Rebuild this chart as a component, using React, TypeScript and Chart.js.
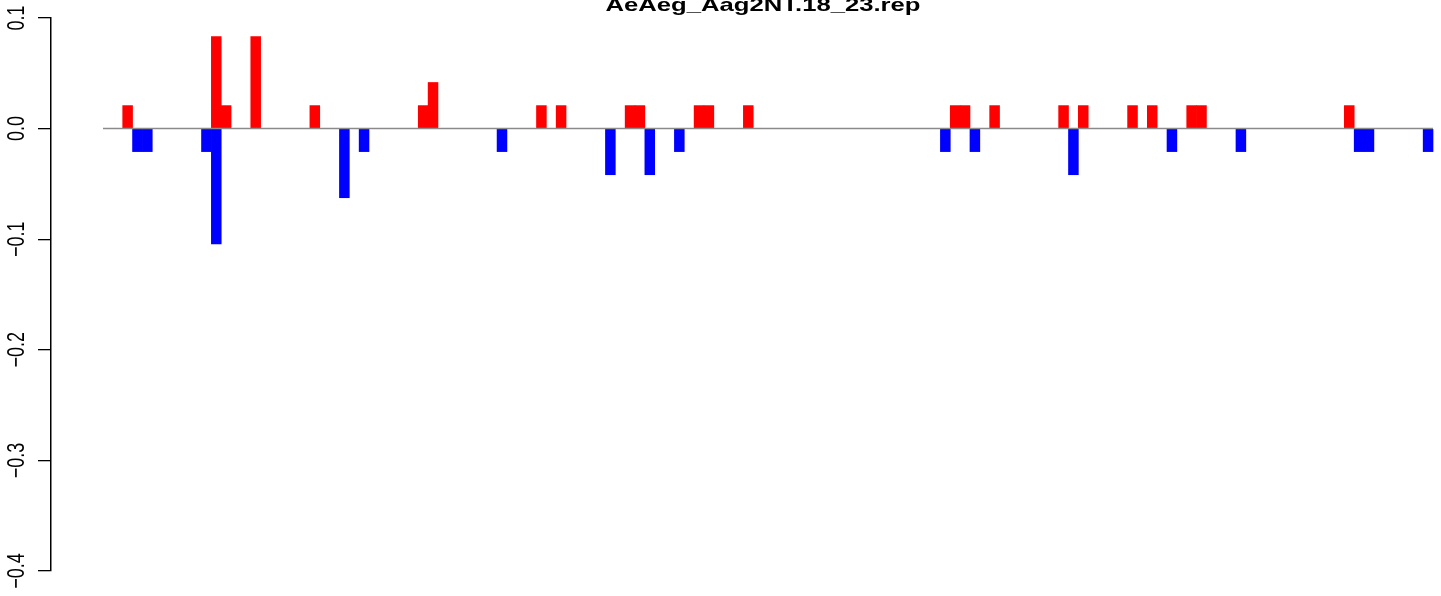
import React, { useEffect, useRef } from "react";
import { Chart, registerables } from "chart.js";

Chart.register(...registerables);

// ---- data ----
const chartTitle = "AeAeg_Aag2NT.18_23.rep";
const nBins = 135;

const redPositions = [2, 11, 12, 15, 21, 32, 33, 44, 46, 53, 54, 60, 61, 65, 86, 87, 90, 97, 99, 104, 106, 110, 111, 126];
const redValues = [
  0.0208, 0.0833, 0.0208, 0.0833, 0.0208, 0.0208, 0.0417, 0.0208, 0.0208, 0.0208, 0.0208, 0.0208,
  0.0208, 0.0208, 0.0208, 0.0208, 0.0208, 0.0208, 0.0208, 0.0208, 0.0208, 0.0208, 0.0208, 0.0208,
];

const bluePositions = [3, 4, 10, 11, 24, 26, 40, 51, 55, 58, 85, 88, 98, 108, 115, 127, 128, 134];
const blueValues = [
  -0.0208, -0.0208, -0.0208, -0.1042, -0.0625, -0.0208, -0.0208, -0.0417, -0.0417, -0.0208, -0.0208,
  -0.0208, -0.0417, -0.0208, -0.0208, -0.0208, -0.0208, -0.0208,
];

const zeroLineX = [-0.5, nBins - 0.5];
const zeroLineY = [0, 0];

const yTickValues = [0.1, 0, -0.1, -0.2, -0.3, -0.4];
const yTickLabels = ["0.1", "0.0", "\u22120.1", "\u22120.2", "\u22120.3", "\u22120.4"];

// ---- layout / style ----
const W = 1441;
const H = 596;
const STRETCH = 1.35;
const SLOT_PX = 9.852;
const AREA_LEFT = 51;
const FIRST_BAR_LEFT = 103;
const X_MIN = -0.5 - (FIRST_BAR_LEFT - AREA_LEFT) / SLOT_PX;
const X_MAX = X_MIN + (W - AREA_LEFT) / SLOT_PX;

const rTextPlugin = {
  id: "rText",
  afterDraw(chart: any) {
    const ctx = chart.ctx as CanvasRenderingContext2D;
    const ys = chart.scales.y;
    ctx.save();
    ctx.fillStyle = "#000";
    ctx.textAlign = "center";
    ctx.textBaseline = "alphabetic";
    ctx.font = '18px "Liberation Sans", Arial, sans-serif';
    yTickValues.forEach((v, i) => {
      const py = ys.getPixelForValue(v);
      ctx.save();
      ctx.translate(23.5, py);
      ctx.rotate(-Math.PI / 2);
      ctx.scale(1, STRETCH);
      ctx.fillText(yTickLabels[i], 0, 0);
      ctx.restore();
    });
    ctx.font = 'bold 19px "Liberation Sans", Arial, sans-serif';
    ctx.translate(763, 10.5);
    ctx.scale(STRETCH, 1);
    ctx.fillText(chartTitle, 0, 0);
    ctx.restore();
  },
};

export default function App() {
  const canvasRef = useRef<HTMLCanvasElement | null>(null);

  useEffect(() => {
    const canvas = canvasRef.current;
    if (!canvas) return;
    const chart = new Chart(canvas, {
      type: "bar",
      data: {
        datasets: [
          {
            type: "line",
            data: zeroLineX.map((x, i) => ({ x, y: zeroLineY[i] })),
            borderColor: "#8a8a8a",
            borderWidth: 1.5,
            pointRadius: 0,
            fill: false,
            order: 0,
          } as any,
          {
            data: redPositions.map((x, i) => ({ x, y: redValues[i] })),
            backgroundColor: "#FF0000",
            borderWidth: 0,
            grouped: false,
            barPercentage: 1,
            categoryPercentage: 1,
            order: 1,
          },
          {
            data: bluePositions.map((x, i) => ({ x, y: blueValues[i] })),
            backgroundColor: "#0000FF",
            borderWidth: 0,
            grouped: false,
            barPercentage: 1,
            categoryPercentage: 1,
            order: 2,
          },
        ],
      },
      options: {
        responsive: false,
        animation: false,
        devicePixelRatio: 1,
        events: [],
        layout: { padding: { left: AREA_LEFT - 13, top: 18, bottom: 25, right: 0 } },
        plugins: {
          legend: { display: false },
          title: { display: false },
          tooltip: { enabled: false },
        },
        scales: {
          x: {
            type: "linear",
            min: X_MIN,
            max: X_MAX,
            offset: false,
            grid: { offset: false },
            display: false,
          },
          y: {
            type: "linear",
            min: -0.4,
            max: 0.1,
            afterBuildTicks: (s: any) => {
              s.ticks = yTickValues.map((v) => ({ value: v }));
            },
            ticks: { display: false },
            grid: {
              drawOnChartArea: false,
              drawTicks: true,
              tickLength: 13,
              color: "#000",
              lineWidth: 1.3,
            },
            border: { display: true, color: "#000", width: 1.5 },
          },
        },
      } as any,
      plugins: [rTextPlugin],
    });
    return () => chart.destroy();
  }, []);

  return (
    <div style={{ position: "absolute", left: 0, top: 0, width: W, height: H, background: "#fff" }}>
      <canvas ref={canvasRef} width={W} height={H} style={{ display: "block" }} />
    </div>
  );
}
